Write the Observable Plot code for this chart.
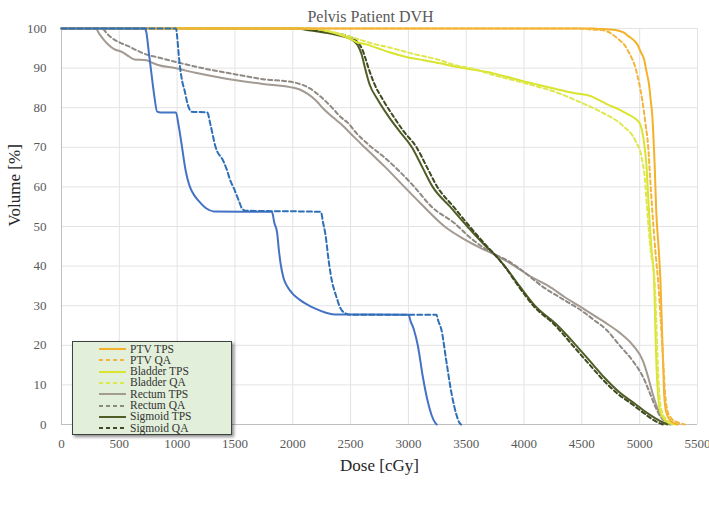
<!DOCTYPE html>
<html><head><meta charset="utf-8">
<script src="https://cdn.jsdelivr.net/npm/d3@7"></script>
<script src="https://cdn.jsdelivr.net/npm/@observablehq/plot@0.6"></script>
<style>
body{margin:0;background:#fff;}
#wrap{position:relative;width:709px;height:508px;}
#legend{position:absolute;left:72px;top:341px;width:160px;height:94px;background:#e2efda;border:1px solid #404040;box-shadow:2px 2px 3px rgba(0,0,0,.45);font-family:"Liberation Serif",serif;font-size:11.5px;line-height:11px;color:#333;box-sizing:border-box;}
.row{position:absolute;left:26px;height:11px;display:flex;align-items:center;white-space:nowrap;}
.row svg{margin-right:4px;}
</style></head><body><div id="wrap"></div>
<script>
const chartTitle = "Pelvis Patient DVH";
const xTitle = "Dose [cGy]";
const yTitle = "Volume [%]";
const xTicks = [0,500,1000,1500,2000,2500,3000,3500,4000,4500,5000,5500];
const yTicks = [0,10,20,30,40,50,60,70,80,90,100];

// [dose cGy, volume %]
const ptvTps = [[0,100],[4600,100],[4645,99.9],[4720,99.8],[4790,99.6],[4860,99],[4906,98],[4950,97],[4987,95.6],[5010,94],[5036,92.4],[5060,89],[5080,86],[5095,82],[5109,78],[5120,72],[5129,66],[5143,54],[5165,44],[5180,36],[5192,25],[5203,15],[5213,7],[5230,3],[5260,1.2],[5300,0.3],[5330,0]];
const ptvQa = [[0,100],[4450,100],[4529,99.9],[4600,99.7],[4674,99.6],[4750,98.8],[4819,97.2],[4870,95.8],[4906,94],[4964,90],[5000,85.5],[5022,82],[5050,76],[5074,70],[5095,60],[5109,54],[5135,44],[5160,36],[5185,25],[5205,15],[5222,7],[5240,3.5],[5275,1.5],[5330,0.5],[5390,0]];
const bladderTps = [[0,100],[2150,100],[2300,99.3],[2420,98.3],[2483,97.6],[2550,96.6],[2634,96],[2737,95],[2837,94],[2983,92.8],[3130,92],[3273,91.2],[3399,90.4],[3564,89.6],[3717,88.8],[3850,87.8],[3978,86.8],[4120,85.8],[4268,84.8],[4430,83.7],[4587,82.8],[4645,82],[4730,80.7],[4819,79.6],[4900,78.3],[4964,77.2],[5007,75.6],[5025,73.5],[5036,71.6],[5057,66],[5080,54],[5100,45],[5125,36],[5135,25],[5145,15],[5160,7],[5180,3],[5215,1.2],[5260,0.3],[5290,0]];
const bladderQa = [[0,100],[2150,100],[2300,99.4],[2430,98.5],[2576,97.2],[2700,96.1],[2837,95.2],[3041,93.6],[3273,92],[3399,90.8],[3564,89.8],[3717,88.4],[3978,86.4],[4268,84],[4500,81.2],[4674,78.8],[4848,75.6],[4964,71.6],[5016,67.6],[5045,62],[5065,54],[5095,44],[5130,36],[5145,25],[5157,15],[5172,7],[5195,3],[5235,1.2],[5285,0.3],[5320,0]];
const rectumTps = [[0,100],[295,100],[330,98.5],[370,97],[410,95.8],[456,94.8],[529,94],[580,93],[632,92.2],[734,92],[790,91.3],[836,90.8],[982,90],[1158,88.8],[1450,87.2],[1743,86],[1977,85.2],[2060,84.6],[2123,83.6],[2200,81.8],[2269,79.6],[2350,77.5],[2413,76],[2500,73.5],[2600,70.6],[2700,67.8],[2800,65],[2965,60],[3100,56],[3313,50],[3500,46.5],[3630,44.5],[3746,42.9],[3920,40],[4050,37.5],[4210,35],[4360,32],[4500,29.5],[4600,27.6],[4709,25.6],[4826,23.2],[4942,20],[5029,16],[5073,12],[5110,8],[5145,4.8],[5190,2],[5240,0.5],[5270,0]];
const rectumQa = [[0,100],[350,100],[400,98.5],[456,97.2],[515,96.3],[573,95.6],[650,94.5],[719,93.6],[850,92.6],[982,91.6],[1216,90],[1509,88.4],[1743,87.2],[2006,86.4],[2080,85.8],[2152,84.8],[2240,82.8],[2327,80.4],[2420,77.5],[2486,75.9],[2532,74.2],[2650,70.8],[2790,67.5],[2920,64],[3051,60],[3200,55],[3400,50.8],[3530,47.3],[3659,44.5],[3760,42.8],[3862,41.3],[4000,38.5],[4152,35],[4360,31.2],[4500,28.7],[4600,26.5],[4709,24],[4826,20],[4942,16],[5029,12],[5087,8],[5131,4.8],[5180,2],[5230,0.5],[5260,0]];
const sigmoidTps = [[0,100],[2050,100],[2110,99.7],[2200,99.3],[2314,98.8],[2420,98.1],[2483,97.6],[2530,96.8],[2565,95.6],[2595,93.5],[2625,90],[2663,86],[2735,82],[2823,78],[2924,74],[3030,70],[3120,65],[3210,60],[3360,55],[3510,50],[3670,45],[3746,42.9],[3833,40],[3960,35],[4094,30],[4290,25],[4450,20],[4600,15],[4690,12],[4830,8],[4970,5],[5060,3],[5140,1.5],[5200,0.5],[5240,0]];
const sigmoidQa = [[0,100],[2050,100],[2150,99.7],[2250,99.3],[2372,98.8],[2460,98.2],[2517,97.6],[2565,96.4],[2600,94.8],[2628,92.5],[2655,90],[2706,86],[2780,82],[2866,78],[2960,74],[3070,70],[3160,65],[3250,60],[3390,55],[3530,50],[3680,45],[3750,42.8],[3830,40],[3950,35],[4080,30],[4270,25],[4420,20],[4570,15],[4660,12],[4800,8],[4940,5],[5030,3],[5100,1.5],[5160,0.5],[5200,0]];
const blueTps = [[0,100],[720,100],[734,99],[755,94],[772,90],[800,83.5],[827,79],[860,78.8],[990,78.8],[1010,76],[1041,70.3],[1072,64.4],[1090,62],[1116,59.6],[1150,57.8],[1188,56.4],[1250,54.6],[1318,53.8],[1820,53.7],[1840,51],[1865,48.4],[1880,44],[1896,40.4],[1920,37],[1954,34.8],[2000,33],[2055,31.6],[2130,30.2],[2200,29.2],[2280,28.3],[2360,27.8],[3000,27.7],[3020,26],[3047,24],[3081,20],[3125,12],[3169,5.6],[3200,2.4],[3230,0.5],[3245,0]];
const blueQa = [[0,100],[990,100],[1000,98],[1015,93],[1026,90],[1045,86.5],[1064,84.4],[1090,81],[1123,79],[1260,78.8],[1289,75.6],[1333,70],[1400,66.5],[1434,64],[1455,62],[1491,59.6],[1535,56.4],[1560,54.6],[1592,54],[2243,53.7],[2262,51],[2280,48.4],[2315,40.4],[2340,36],[2358,34],[2380,32],[2402,30],[2430,28.6],[2460,28],[2500,27.7],[3241,27.7],[3260,26],[3285,24],[3328,16],[3372,8],[3416,2.4],[3440,0.5],[3455,0]];

const legendNames = ["PTV TPS","PTV QA","Bladder TPS","Bladder QA","Rectum TPS","Rectum QA","Sigmoid TPS","Sigmoid QA"];

const styles = {
  "PTV TPS": {stroke:"#f4b12a", dash:null},
  "PTV QA": {stroke:"#f4b53c", dash:"4,3"},
  "Bladder TPS": {stroke:"#d9e42e", dash:null},
  "Bladder QA": {stroke:"#dfe74e", dash:"4,3"},
  "Rectum TPS": {stroke:"#a39a92", dash:null},
  "Rectum QA": {stroke:"#8f8984", dash:"4,3"},
  "Sigmoid TPS": {stroke:"#505d26", dash:null},
  "Sigmoid QA": {stroke:"#3e4a1f", dash:"4,3"},
  "Blue TPS": {stroke:"#4472c4", dash:null},
  "Blue QA": {stroke:"#2e6fb7", dash:"5,3"}
};
const seriesData = {
  "PTV TPS": ptvTps, "PTV QA": ptvQa, "Bladder TPS": bladderTps, "Bladder QA": bladderQa,
  "Rectum TPS": rectumTps, "Rectum QA": rectumQa, "Sigmoid TPS": sigmoidTps, "Sigmoid QA": sigmoidQa,
  "Blue TPS": blueTps, "Blue QA": blueQa
};
const drawOrder = ["Rectum TPS","Rectum QA","Sigmoid TPS","Sigmoid QA","Bladder TPS","Bladder QA","PTV TPS","PTV QA","Blue TPS","Blue QA"];

const lineMarks = drawOrder.map(name => {
  const rows = seriesData[name].map(([dose, vol]) => ({dose, vol}));
  const s = styles[name];
  return Plot.line(rows, {x:"dose", y:"vol", stroke:s.stroke, strokeWidth:2, strokeDasharray:s.dash ?? undefined, curve:"monotone-x"});
});

const chart = Plot.plot({
  width:709, height:508,
  marginLeft:61, marginRight:12, marginTop:28, marginBottom:84,
  style:{fontFamily:"'Liberation Serif', serif", fontSize:"13px", color:"#595959", background:"#fff"},
  x:{domain:[0,5500], label:null},
  y:{domain:[0,100], label:null},
  marks:[
    Plot.ruleX(xTicks, {stroke:"#e3e3e3", strokeWidth:1}),
    Plot.ruleY(yTicks, {stroke:"#e3e3e3", strokeWidth:1}),
    Plot.ruleX([0], {stroke:"#bfbfbf"}),
    Plot.ruleY([0], {stroke:"#bfbfbf"}),
    ...lineMarks,
    Plot.axisX(xTicks, {tickSize:0, tickPadding:14, tickFormat:d=>String(d), fontSize:13, fill:"#595959", label:null}),
    Plot.axisY(yTicks, {tickSize:0, tickPadding:15, tickFormat:d=>String(d), fontSize:13, fill:"#595959", label:null}),
    Plot.text([chartTitle], {text:d=>d, frameAnchor:"top", dy:-18, dx:-9, fontSize:16, fill:"#595959"}),
    Plot.text([xTitle], {text:d=>d, frameAnchor:"bottom", dy:46, fontSize:17, fill:"#262626"}),
    Plot.text([yTitle], {text:d=>d, frameAnchor:"left", dx:-47, rotate:-90, fontSize:17, fill:"#262626"})
  ]
});
const wrap = document.getElementById("wrap");
wrap.appendChild(chart);

const legend = document.createElement("div");
legend.id = "legend";
legendNames.forEach((name, i) => {
  const s = styles[name];
  const row = document.createElement("div");
  row.className = "row";
  row.style.top = (1.5 + i * 11.3) + "px";
  row.innerHTML = `<svg width="27" height="6"><line x1="0" y1="3" x2="27" y2="3" stroke="${s.stroke}" stroke-width="2" ${s.dash ? `stroke-dasharray="${s.dash}"` : ""}/></svg><span>${name}</span>`;
  legend.appendChild(row);
});
wrap.appendChild(legend);
</script>
</body></html>
